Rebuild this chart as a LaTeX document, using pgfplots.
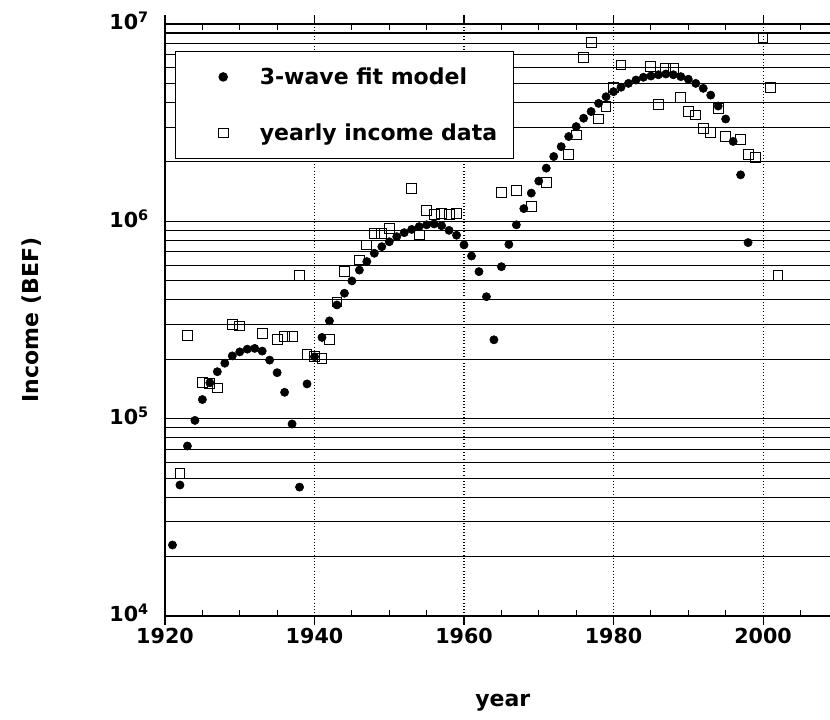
\documentclass[border=0pt]{standalone}
\usepackage{fontspec}
\setmainfont{DejaVu Sans}
\usepackage{pgfplots}
\pgfplotsset{compat=1.18}

% 3-wave fit (filled circles)
\pgfplotstableread{
year value
1921 2.29e4
1922 4.61e4
1923 7.27e4
1924 9.8e4
1925 1.25e5
1926 1.52e5
1927 1.73e5
1928 1.91e5
1929 2.08e5
1930 2.18e5
1931 2.25e5
1932 2.27e5
1933 2.2e5
1934 1.98e5
1935 1.71e5
1936 1.36e5
1937 9.4e4
1938 4.5e4
1939 1.50e5
1940 2.06e5
1941 2.58e5
1942 3.13e5
1943 3.77e5
1944 4.32e5
1945 4.99e5
1946 5.66e5
1947 6.25e5
1948 6.89e5
1949 7.44e5
1950 7.88e5
1951 8.36e5
1952 8.76e5
1953 9.1e5
1954 9.4e5
1955 9.6e5
1956 9.7e5
1957 9.5e5
1958 9.0e5
1959 8.5e5
1960 7.6e5
1961 6.67e5
1962 5.56e5
1963 4.15e5
1964 2.51e5
1965 5.89e5
1966 7.64e5
1967 9.6e5
1968 1.16e6
1969 1.39e6
1970 1.60e6
1971 1.86e6
1972 2.13e6
1973 2.39e6
1974 2.69e6
1975 3.02e6
1976 3.33e6
1977 3.6e6
1978 3.96e6
1979 4.28e6
1980 4.54e6
1981 4.78e6
1982 5.0e6
1983 5.2e6
1984 5.37e6
1985 5.45e6
1986 5.53e6
1987 5.58e6
1988 5.53e6
1989 5.41e6
1990 5.25e6
1991 5.0e6
1992 4.72e6
1993 4.36e6
1994 3.84e6
1995 3.30e6
1996 2.54e6
1997 1.72e6
1998 7.8e5
}\fitdata

% yearly income (open squares)
\pgfplotstableread{
year value
1922 5.25e4
1923 2.63e5
1925 1.52e5
1926 1.5e5
1927 1.43e5
1929 3.0e5
1930 2.95e5
1933 2.69e5
1935 2.52e5
1936 2.62e5
1937 2.6e5
1938 5.29e5
1939 2.12e5
1940 2.06e5
1941 2.02e5
1942 2.51e5
1943 3.9e5
1944 5.56e5
1946 6.37e5
1947 7.59e5
1948 8.68e5
1949 8.7e5
1950 9.2e5
1953 1.47e6
1954 8.53e5
1955 1.13e6
1956 1.08e6
1957 1.10e6
1958 1.08e6
1959 1.10e6
1965 1.40e6
1967 1.44e6
1969 1.19e6
1971 1.57e6
1974 2.17e6
1975 2.74e6
1976 6.74e6
1977 8.07e6
1978 3.3e6
1979 3.81e6
1980 4.78e6
1981 6.2e6
1985 6.08e6
1986 3.92e6
1987 5.96e6
1988 5.96e6
1989 4.25e6
1990 3.59e6
1991 3.46e6
1992 2.96e6
1993 2.81e6
1994 3.74e6
1995 2.7e6
1997 2.6e6
1998 2.17e6
1999 2.1e6
2000 8.56e6
2001 4.78e6
2002 5.29e5
}\incomedata

\begin{document}
\begin{tikzpicture}
\begin{axis}[
    scale only axis,
    width=504.6pt, height=444pt,
    ymode=log,
    xmin=1920, xmax=2010,
    ymin=1e4, ymax=1e7,
    xtick={1920,1940,1960,1980,2000},
    xticklabels={1920,1940,1960,1980,2000},
    minor xtick={1925,1930,1935,1945,1950,1955,1965,1970,1975,1985,1990,1995,2005},
    ytick={1e4,1e5,1e6,1e7},
    yticklabels={10\textsuperscript{4},10\textsuperscript{5},10\textsuperscript{6},10\textsuperscript{7}},
    tick align=inside,
    major tick length=-6.75pt,
    minor tick length=4.5pt,
    every tick/.style={black, line width=0.8pt},
    major y tick style={draw=none},
    minor y tick style={draw=none},
    axis line style={line width=0.9pt},
    ymajorgrids, yminorgrids, xmajorgrids,
    major y grid style={black, line width=0.8pt},
    minor y grid style={black, line width=0.8pt},
    major x grid style={black, dotted, line width=0.8pt},
    tick label style={font=\bfseries\fontsize{15.5}{18}\selectfont},
    xticklabel style={yshift=-5.3pt},
    yticklabel style={xshift=-8.5pt, yshift=2pt},
    xlabel={year}, ylabel={Income (BEF)},
    label style={font=\bfseries\fontsize{16.5}{19}\selectfont},
    xlabel style={at={(axis description cs:0.502,-0.147)}, anchor=center},
    ylabel style={at={(axis description cs:-0.1977,0.5)}, anchor=center, rotate=0},
    legend style={at={(axis description cs:0.01486,0.9544)}, anchor=north west,
        draw=black, line width=0.9pt, fill=white,
        font=\bfseries\fontsize{16.5}{19}\selectfont,
        inner xsep=10pt, inner ysep=10pt, row sep=24pt},
    legend cell align=left,
    legend image code/.code={%
        \path (-25.25pt,0pt) (25pt,0pt);
        \draw[#1] plot coordinates {(0pt,0pt)};},
]
\addplot[only marks, mark=*, mark size=3.1pt, mark options={fill=black, draw=black}]
    table[x=year, y=value] {\fitdata};
\addplot[only marks, mark=square, mark size=3.7pt, mark options={draw=black, line width=0.75pt, fill=none}]
    table[x=year, y=value] {\incomedata};
\legend{3-wave fit model, yearly income data}
\end{axis}
\pgfresetboundingbox
\path[use as bounding box] ([xshift=-123.75pt, yshift=-77.25pt]current axis.south west)
    rectangle ([xshift=498.75pt, yshift=18pt]current axis.north west);
\end{tikzpicture}
\end{document}
